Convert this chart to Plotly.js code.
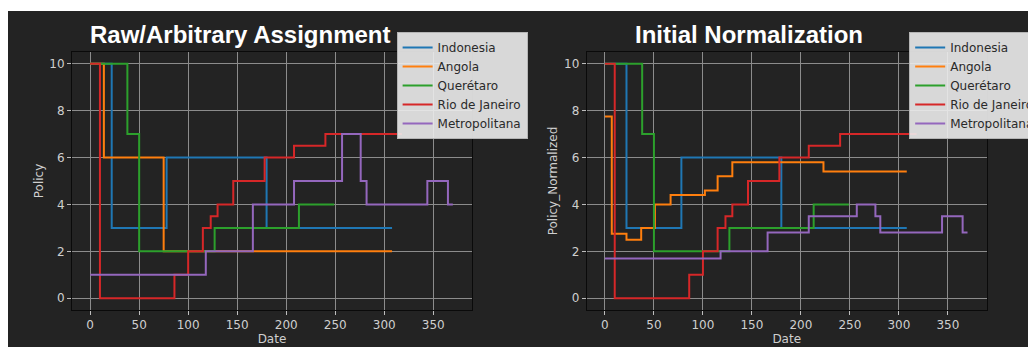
<!DOCTYPE html>
<html>
<head>
<meta charset="utf-8">
<script src="https://cdn.plot.ly/plotly-3.0.1.min.js"></script>
<style>
  html, body { margin: 0; padding: 0; background: #ffffff; width: 1028px; height: 347px; overflow: hidden; }
  #chart { position: absolute; left: 8px; top: 11px; width: 1020px; height: 336px; }
</style>
</head>
<body>
<div id="chart"></div>
<script>
// ---------- data ----------
const seriesNames = ["Indonesia", "Angola", "Querétaro", "Rio de Janeiro", "Metropolitana"];
const seriesColors = ["#1f77b4", "#ff7f0e", "#2ca02c", "#d62728", "#9467bd"];

// Raw / arbitrary assignment (left panel)
const rawIndonesiaDates = [0, 22, 78, 180, 308];
const rawIndonesiaPolicy = [10, 3, 6, 3, 3];
const rawAngolaDates = [0, 14, 75, 308];
const rawAngolaPolicy = [10, 6, 2, 2];
const rawQueretaroDates = [0, 38, 50, 127, 213, 249];
const rawQueretaroPolicy = [10, 7, 2, 3, 4, 4];
const rawRioDates = [0, 10, 86, 100, 115, 123, 130, 146, 178, 208, 240, 318];
const rawRioPolicy = [10, 0, 1, 2, 3, 3.5, 4, 5, 6, 6.5, 7, 7];
const rawMetroDates = [0, 118, 166, 208, 257, 276, 282, 344, 365, 370];
const rawMetroPolicy = [1, 2, 4, 5, 7, 5, 4, 5, 4, 4];

// Initial normalization (right panel)
const normIndonesiaDates = [0, 22, 78, 180, 308];
const normIndonesiaPolicy = [10, 3, 6, 3, 3];
const normAngolaDates = [0, 7, 22, 37, 51, 67, 102, 115, 130, 223, 308];
const normAngolaPolicy = [7.75, 2.75, 2.5, 3, 4, 4.4, 4.6, 5.2, 5.8, 5.4, 5.4];
const normQueretaroDates = [0, 38, 50, 127, 213, 249];
const normQueretaroPolicy = [10, 7, 2, 3, 4, 4];
const normRioDates = [0, 10, 86, 100, 115, 123, 130, 146, 178, 208, 240, 318];
const normRioPolicy = [10, 0, 1, 2, 3, 3.5, 4, 5, 6, 6.5, 7, 7];
const normMetroDates = [0, 118, 166, 208, 257, 276, 281, 344, 365, 370];
const normMetroPolicy = [1.7, 2, 2.8, 3.5, 4, 3.5, 2.8, 3.5, 2.8, 2.8];

const xTickVals = [0, 50, 100, 150, 200, 250, 300, 350];
const yTickVals = [0, 2, 4, 6, 8, 10];
const panelTitles = ["Raw/Arbitrary Assignment", "Initial Normalization"];
const yTitles = ["Policy", "Policy_Normalized"];
const xTitle = "Date";

// ---------- build traces ----------
const rawSets = [
  [rawIndonesiaDates, rawIndonesiaPolicy],
  [rawAngolaDates, rawAngolaPolicy],
  [rawQueretaroDates, rawQueretaroPolicy],
  [rawRioDates, rawRioPolicy],
  [rawMetroDates, rawMetroPolicy]
];
const normSets = [
  [normIndonesiaDates, normIndonesiaPolicy],
  [normAngolaDates, normAngolaPolicy],
  [normQueretaroDates, normQueretaroPolicy],
  [normRioDates, normRioPolicy],
  [normMetroDates, normMetroPolicy]
];

const traces = [];
rawSets.forEach((s, i) => traces.push({
  type: "scatter", mode: "lines", x: s[0], y: s[1], name: seriesNames[i],
  line: { color: seriesColors[i], width: 2, shape: "hv" },
  xaxis: "x", yaxis: "y", legend: "legend"
}));
normSets.forEach((s, i) => traces.push({
  type: "scatter", mode: "lines", x: s[0], y: s[1], name: seriesNames[i],
  line: { color: seriesColors[i], width: 2, shape: "hv" },
  xaxis: "x2", yaxis: "y2", legend: "legend2"
}));

const bg = "#232323";
const gridColor = "#8c8c8c";
const tickColor = "#cfcfcf";

function xAxis(domain, anchor) {
  return {
    domain: domain, anchor: anchor, range: [-18.55, 389.55],
    tickvals: xTickVals, ticks: "outside", ticklen: 4, tickcolor: "#bdbdbd",
    showgrid: true, gridcolor: gridColor, gridwidth: 1, zeroline: false,
    showline: true, mirror: true, linecolor: "#0a0a0a", linewidth: 1,
    tickfont: { family: "DejaVu Sans", size: 12, color: tickColor },
    title: { text: xTitle, font: { family: "DejaVu Sans", size: 12, color: tickColor }, standoff: 3 },
    automargin: false
  };
}
function yAxis(domain, anchor, title) {
  return {
    domain: domain, anchor: anchor, range: [-0.5, 10.5],
    tickvals: yTickVals, ticks: "outside", ticklen: 4, tickcolor: "#bdbdbd",
    showgrid: true, gridcolor: gridColor, gridwidth: 1, zeroline: false,
    showline: true, mirror: true, linecolor: "#0a0a0a", linewidth: 1,
    tickfont: { family: "DejaVu Sans", size: 12, color: tickColor },
    title: { text: title, font: { family: "DejaVu Sans", size: 12, color: tickColor }, standoff: 3 },
    automargin: false
  };
}

const legendStyle = (x) => ({
  x: x, y: 0.9375, xref: "paper", yref: "paper", xanchor: "left", yanchor: "top",
  bgcolor: "rgba(236,236,236,0.9)", bordercolor: "#b5b5b5", borderwidth: 1,
  font: { family: "DejaVu Sans", size: 12, color: "#2a2a2a" },
  itemwidth: 30, tracegroupgap: 0
});

const yDom = [0.1101, 0.878];
const layout = {
  width: 1020, height: 336,
  paper_bgcolor: bg, plot_bgcolor: bg,
  margin: { l: 0, r: 0, t: 0, b: 0, autoexpand: false },
  showlegend: true,
  xaxis: xAxis([0.0627, 0.4549], "y"),
  yaxis: yAxis(yDom, "x", yTitles[0]),
  xaxis2: xAxis([0.5674, 0.9595], "y2"),
  yaxis2: yAxis(yDom, "x2", yTitles[1]),
  legend: legendStyle(0.381),
  legend2: legendStyle(0.8835),
  annotations: [
    { text: "<b>" + panelTitles[0] + "</b>", x: 0.2284, y: 0.93, xref: "paper", yref: "paper",
      xanchor: "center", yanchor: "middle", showarrow: false,
      font: { family: "Liberation Sans", size: 24, color: "#ffffff" } },
    { text: "<b>" + panelTitles[1] + "</b>", x: 0.7265, y: 0.93, xref: "paper", yref: "paper",
      xanchor: "center", yanchor: "middle", showarrow: false,
      font: { family: "Liberation Sans", size: 24, color: "#ffffff" } }
  ]
};

Plotly.newPlot("chart", traces, layout, { displayModeBar: false, staticPlot: true });
</script>
</body>
</html>
